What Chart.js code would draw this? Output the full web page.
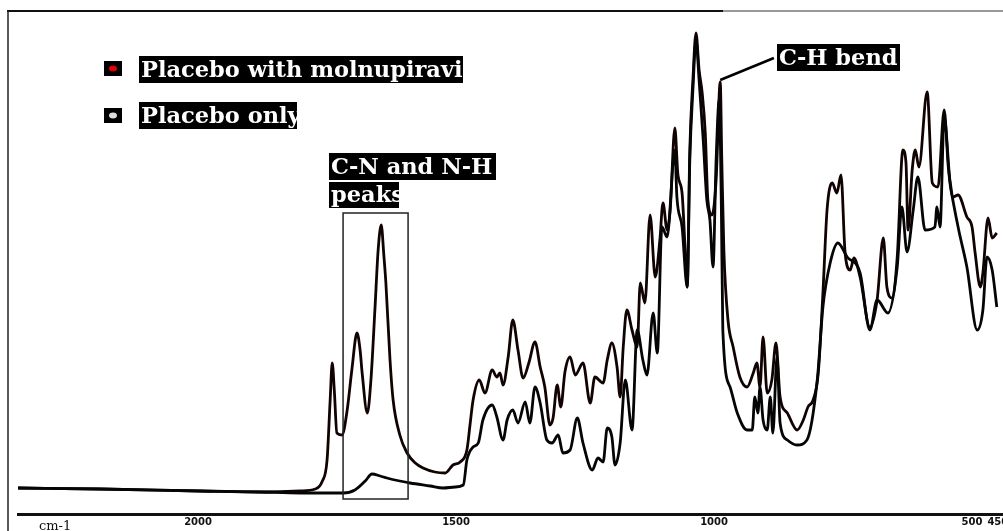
<!DOCTYPE html>
<html>
<head>
<meta charset="utf-8">
<script src="https://cdn.jsdelivr.net/npm/chart.js@4.4.0/dist/chart.umd.min.js"></script>
<style>
  html, body { margin: 0; padding: 0; background: #fff; }
  #wrap { width: 1003px; height: 531px; position: relative; }
</style>
</head>
<body>
<div id="wrap"><canvas id="irChart" width="1003" height="531"></canvas></div>
<script>
// Wavenumbers (cm-1) and relative absorbance
const wnMolnu = [2349, 2190, 1996, 1880, 1802, 1773, 1760, 1750, 1744, 1740, 1736, 1731, 1721, 1711, 1702, 1692, 1686, 1682, 1672, 1665,
  1657, 1651, 1645, 1640, 1636, 1628, 1622, 1609, 1595, 1579, 1564, 1541, 1521, 1506, 1492, 1479, 1473, 1467, 1455, 1444,
  1430, 1421, 1415, 1409, 1399, 1390, 1380, 1370, 1359, 1347, 1337, 1328, 1318, 1312, 1304, 1297, 1289, 1279, 1269, 1254,
  1240, 1231, 1215, 1207, 1198, 1188, 1182, 1176, 1169, 1159, 1149, 1143, 1134, 1124, 1114, 1105, 1099, 1091, 1085, 1076,
  1070, 1062, 1056, 1052, 1047, 1041, 1035, 1029, 1023, 1017, 1012, 1004, 996, 988, 985, 981, 973, 963, 950, 936,
  924, 917, 911, 905, 897, 888, 880, 872, 858, 839, 827, 818, 808, 798, 789, 781, 771, 762, 754, 746,
  736, 729, 717, 698, 684, 672, 665, 655, 645, 634, 628, 624, 616, 610, 603, 587, 577, 566, 554, 546,
  537, 527, 510, 500, 494, 484, 479, 469, 461, 452];
const absMolnu = [5.2, 5.0, 4.6, 4.4, 4.6, 5.0, 6.4, 10.8, 22.8, 30.2, 24.8, 16.2, 15.8, 20.8, 28.8, 36.2, 32.8, 28.2, 20.2, 26.8,
  41.4, 52.8, 57.8, 51.8, 46.2, 30.8, 22.8, 15.8, 12.2, 10.2, 9.2, 8.4, 8.2, 9.8, 10.4, 12.8, 17.8, 22.8, 26.8, 24.2,
  28.8, 27.4, 28.2, 25.8, 31.4, 38.8, 32.8, 27.2, 30.2, 34.4, 29.4, 25.4, 17.8, 19.2, 25.8, 21.4, 28.4, 31.4, 27.8, 30.2,
  22.2, 27.4, 26.2, 30.8, 34.2, 29.4, 23.4, 33.4, 40.8, 36.8, 33.4, 46.2, 42.2, 59.8, 47.4, 54.8, 62.2, 56.8, 60.8, 77.2,
  67.8, 64.2, 52.8, 45.4, 72.8, 86.8, 96.2, 88.8, 84.2, 76.2, 62.8, 59.8, 66.8, 86.4, 70.8, 52.8, 38.8, 33.4, 27.4, 25.4,
  28.2, 30.2, 25.4, 35.4, 24.2, 26.8, 34.2, 23.4, 20.2, 16.8, 18.8, 21.4, 22.8, 28.2, 44.2, 60.8, 66.2, 64.2, 67.8, 52.2,
  48.8, 51.2, 47.4, 37.4, 42.8, 55.2, 45.4, 43.2, 51.4, 72.8, 70.2, 56.8, 68.8, 72.8, 69.4, 84.4, 66.2, 65.4, 80.8, 69.4,
  63.4, 63.8, 59.4, 57.4, 52.2, 45.4, 48.2, 59.2, 55.2, 56.2];

const wnPlacebo = [2349, 2190, 1996, 1880, 1802, 1719, 1696, 1676, 1663, 1647, 1634, 1609, 1589, 1550, 1525, 1502, 1486, 1479, 1467, 1457,
  1448, 1430, 1421, 1409, 1401, 1390, 1380, 1366, 1357, 1347, 1337, 1324, 1314, 1302, 1293, 1279, 1265, 1254, 1236, 1225,
  1215, 1207, 1198, 1192, 1182, 1172, 1159, 1149, 1138, 1130, 1118, 1110, 1101, 1091, 1076, 1072, 1062, 1052, 1047, 1041,
  1035, 1029, 1021, 1014, 1008, 1002, 996, 990, 986, 983, 969, 955, 936, 926, 921, 915, 911, 905, 897, 891,
  886, 878, 872, 858, 839, 820, 800, 789, 775, 760, 742, 717, 698, 684, 663, 645, 636, 626, 614, 605,
  591, 572, 568, 562, 554, 543, 527, 510, 490, 479, 471, 461, 452];
const absPlacebo = [5.2, 5.0, 4.6, 4.4, 4.2, 4.2, 4.8, 6.6, 8.0, 7.6, 7.2, 6.6, 6.2, 5.6, 5.2, 5.4, 5.8, 10.8, 13.4, 14.2,
  18.8, 21.8, 19.4, 14.8, 18.8, 20.8, 18.2, 22.4, 18.2, 25.4, 22.2, 14.8, 14.2, 15.8, 12.2, 12.8, 19.2, 14.2, 8.8, 11.2,
  10.4, 17.2, 15.4, 9.8, 14.2, 26.8, 16.8, 36.8, 30.8, 27.8, 40.2, 32.2, 57.4, 55.4, 72.8, 63.4, 57.4, 45.4, 70.8, 84.8,
  94.8, 86.8, 74.8, 62.8, 58.8, 49.4, 70.8, 82.8, 62.8, 36.8, 25.4, 20.2, 16.8, 16.8, 23.4, 20.2, 25.4, 18.8, 16.8, 23.4,
  16.2, 31.4, 18.2, 14.8, 13.8, 14.8, 26.8, 41.4, 50.2, 54.2, 51.4, 48.2, 36.8, 42.8, 40.2, 49.4, 61.4, 52.4, 60.8, 67.4,
  56.8, 57.4, 61.4, 57.4, 79.4, 66.8, 57.4, 49.4, 36.8, 40.8, 51.4, 48.8, 41.4];

const seriesLabels = ['Placebo with molnupiravir', 'Placebo only'];
const tickValues = [2000, 1500, 1000, 500, 450];
const WN_MIN = 440;
const WN_MAX = 2349;
const ABS_MAX = 100.6;

function toPoints(xs, ys) {
  return xs.map((x, i) => ({ x: x, y: ys[i] }));
}

// black label with white serif text, clipped to its box
function labelBox(ctx, text, x, y, w, h) {
  ctx.save();
  ctx.fillStyle = '#000';
  ctx.fillRect(x, y, w, h);
  ctx.beginPath();
  ctx.rect(x, y, w, h);
  ctx.clip();
  ctx.fillStyle = '#fff';
  ctx.font = 'bold 22.5px "DejaVu Serif", serif';
  ctx.textBaseline = 'alphabetic';
  ctx.fillText(text, x + 2, y + h - 6);
  ctx.restore();
}

const decorPlugin = {
  id: 'decor',
  afterDraw(chart) {
    const ctx = chart.ctx;
    const xs = chart.scales.x;
    const ys = chart.scales.y;

    // frame
    ctx.save();
    ctx.lineWidth = 2;
    ctx.strokeStyle = '#111';
    ctx.beginPath();
    ctx.moveTo(7, 11); ctx.lineTo(723, 11);
    ctx.stroke();
    ctx.strokeStyle = '#999';
    ctx.beginPath();
    ctx.moveTo(723, 11); ctx.lineTo(1003, 11);
    ctx.stroke();
    ctx.strokeStyle = '#222';
    ctx.lineWidth = 1.5;
    ctx.beginPath();
    ctx.moveTo(8, 11); ctx.lineTo(8, 531);
    ctx.stroke();

    // cm-1 unit label
    ctx.fillStyle = '#111';
    ctx.font = '13px "DejaVu Serif", serif';
    ctx.fillText('cm-1', 39, 530);

    // legend
    ctx.fillStyle = '#000';
    ctx.fillRect(104, 61, 18, 15);
    ctx.fillStyle = '#e00000';
    ctx.beginPath(); ctx.ellipse(113, 68.5, 4, 3, 0, 0, Math.PI * 2); ctx.fill();
    ctx.fillStyle = '#000';
    ctx.fillRect(104, 108, 18, 15);
    ctx.fillStyle = '#ddd';
    ctx.beginPath(); ctx.ellipse(113, 115.5, 4, 3, 0, 0, Math.PI * 2); ctx.fill();
    ctx.restore();
    labelBox(ctx, seriesLabels[0], 139, 56, 324, 27);
    labelBox(ctx, seriesLabels[1], 139, 102, 158, 27);

    // C-N / N-H region box
    ctx.save();
    ctx.strokeStyle = '#222';
    ctx.lineWidth = 1.5;
    const bx0 = xs.getPixelForValue(1719), bx1 = xs.getPixelForValue(1593);
    const by0 = ys.getPixelForValue(60.2), by1 = ys.getPixelForValue(3.0);
    ctx.strokeRect(bx0, by0, bx1 - bx0, by1 - by0);

    // C-H bend leader
    ctx.lineWidth = 2.5;
    ctx.strokeStyle = '#000';
    ctx.beginPath();
    ctx.moveTo(xs.getPixelForValue(988), ys.getPixelForValue(86.8));
    ctx.lineTo(xs.getPixelForValue(884), ys.getPixelForValue(91.2));
    ctx.stroke();
    ctx.restore();

    labelBox(ctx, 'C-N and N-H', 329, 153, 167, 27);
    labelBox(ctx, 'peaks', 329, 182, 70, 26);
    labelBox(ctx, 'C-H bend', 777, 44, 123, 27);
  }
};

document.addEventListener('DOMContentLoaded', () => {
  const ctx = document.getElementById('irChart').getContext('2d');
  new Chart(ctx, {
    type: 'line',
    data: {
      datasets: [
        {
          label: seriesLabels[1],
          data: toPoints(wnPlacebo, absPlacebo),
          borderColor: '#050505',
          borderWidth: 2.8,
          pointRadius: 0,
          cubicInterpolationMode: 'monotone',
          fill: false
        },
        {
          label: seriesLabels[0],
          data: toPoints(wnMolnu, absMolnu),
          borderColor: '#120303',
          borderWidth: 2.8,
          pointRadius: 0,
          cubicInterpolationMode: 'monotone',
          fill: false
        }
      ]
    },
    options: {
      responsive: false,
      animation: false,
      events: [],
      layout: { padding: { left: 18, top: 11, right: 0, bottom: 0 } },
      plugins: {
        legend: { display: false },
        tooltip: { enabled: false }
      },
      scales: {
        x: {
          type: 'linear',
          reverse: true,
          min: WN_MIN,
          max: WN_MAX,
          grid: { display: false, drawTicks: false },
          border: { display: true, color: '#111', width: 3 },
          ticks: {
            color: '#111',
            padding: 2,
            maxRotation: 0,
            autoSkip: false,
            font: { family: '"DejaVu Sans"', size: 10, weight: 'bold' },
            callback: (v) => String(v)
          },
          afterBuildTicks(axis) {
            axis.ticks = tickValues.map(v => ({ value: v }));
          },
          afterFit(axis) {
            axis.height = 17;
            axis.paddingLeft = 0;
            axis.paddingRight = 0;
          }
        },
        y: {
          display: false,
          min: 0,
          max: ABS_MAX
        }
      }
    },
    plugins: [decorPlugin]
  });
});
</script>
</body>
</html>
